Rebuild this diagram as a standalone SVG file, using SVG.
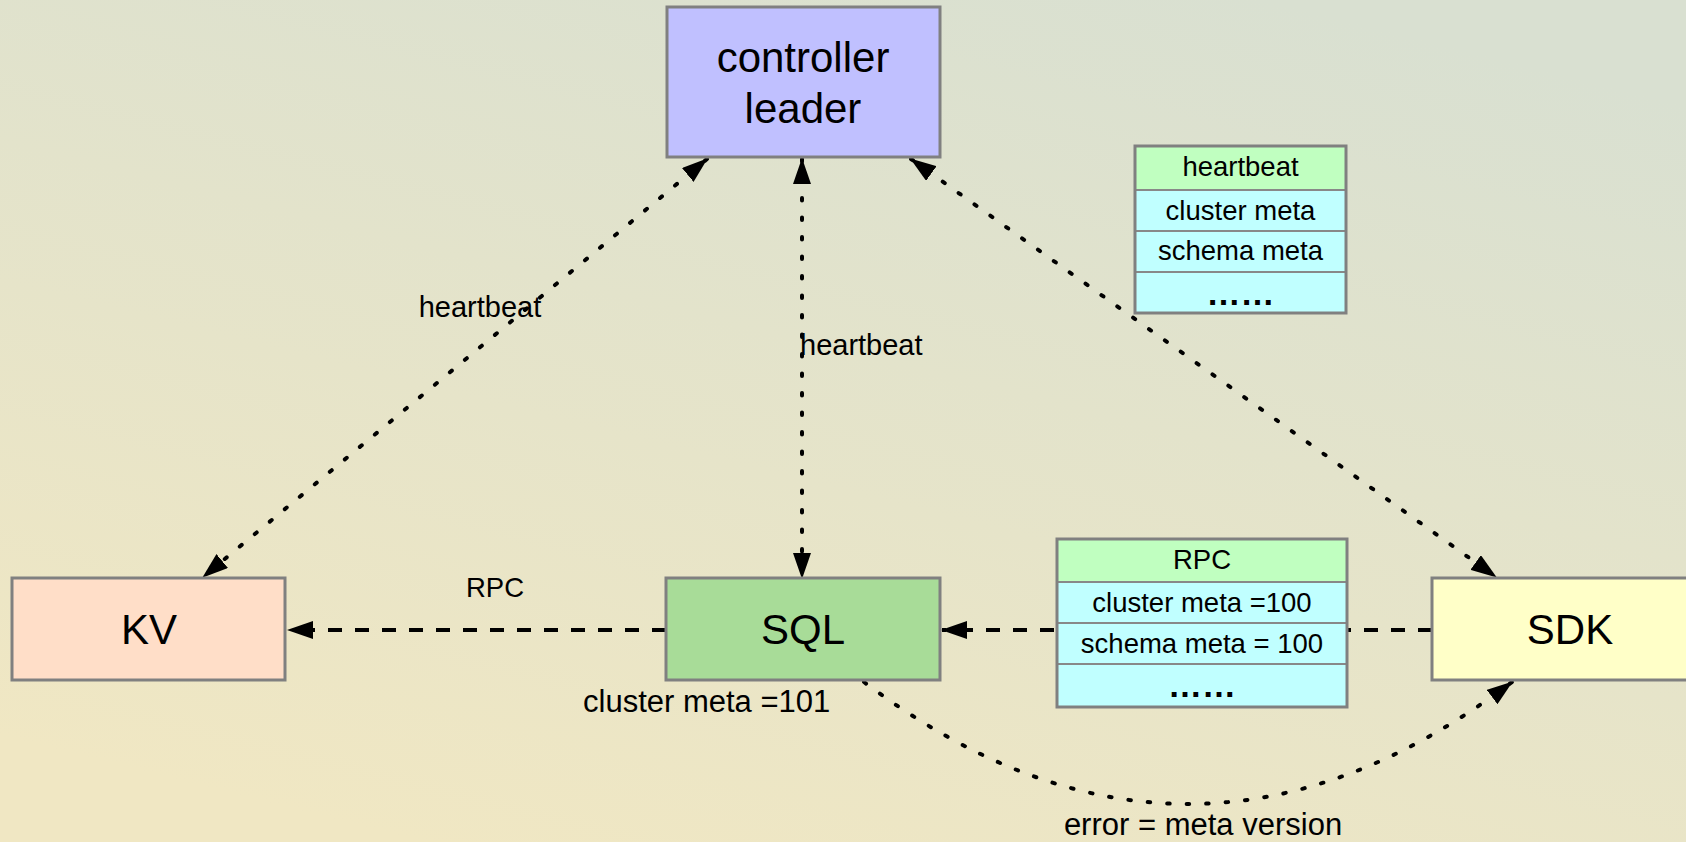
<svg xmlns="http://www.w3.org/2000/svg" width="1686" height="842" viewBox="0 0 1686 842">
  <defs>
    <linearGradient id="bg" x1="0.75" y1="0" x2="0.25" y2="1">
      <stop offset="0" stop-color="#D9E0D1"/>
      <stop offset="1" stop-color="#F0E7C3"/>
    </linearGradient>
    <marker id="arrow" viewBox="0 0 26 18" refX="25" refY="9" markerWidth="26" markerHeight="18" markerUnits="userSpaceOnUse" orient="auto-start-reverse">
      <path d="M0,0 L26,9 L0,18 Z" fill="#000"/>
    </marker>
    <style>
      .box { stroke: #808080; stroke-width: 3; }
      .cell { stroke: #888888; stroke-width: 2; }
      .frame { fill: none; stroke: #808080; stroke-width: 3; }
      .dotted { fill: none; stroke: #000; stroke-width: 4; stroke-linecap: round; stroke-dasharray: 2.5 17; }
      .dashed { fill: none; stroke: #000; stroke-width: 4; stroke-dasharray: 14 13; }
      text { font-family: "Liberation Sans", Arial, sans-serif; fill: #000; }
      .big { font-size: 42px; text-anchor: middle; }
      .cellText { font-size: 27.5px; text-anchor: middle; }
      .dots { font-size: 34px; font-weight: bold; text-anchor: middle; }
      .label { font-size: 29px; }
      .note { font-size: 31px; }
    </style>
  </defs>

  <rect x="0" y="0" width="1686" height="842" fill="url(#bg)"/>

  <!-- connectors -->
  <g id="connectors">
    <path id="edge-controller-kv" class="dotted" d="M707,159 L203,577" marker-start="url(#arrow)" marker-end="url(#arrow)"/>
    <path id="edge-controller-sql" class="dotted" d="M802,159 L802,578" marker-start="url(#arrow)" marker-end="url(#arrow)"/>
    <path id="edge-controller-sdk" class="dotted" d="M911,159 L1496,577" marker-start="url(#arrow)" marker-end="url(#arrow)"/>
    <path id="edge-sql-kv" class="dashed" d="M666,630 L288,630" marker-end="url(#arrow)"/>
    <path id="edge-sdk-sql" class="dashed" d="M1432,630 L942,630" marker-end="url(#arrow)"/>
    <path id="edge-sql-sdk" class="dotted" d="M864,682 Q1188,926 1512,682" marker-end="url(#arrow)"/>
  </g>

  <!-- connector labels -->
  <g id="edge-labels">
    <text class="label" x="480" y="317" text-anchor="middle">heartbeat</text>
    <text class="label" x="800" y="355">heartbeat</text>
    <text class="cellText" x="495" y="597">RPC</text>
    <text class="note" x="583" y="712">cluster meta =101</text>
    <text class="note" x="1203" y="835" text-anchor="middle">error = meta version</text>
  </g>

  <!-- nodes -->
  <g id="controller">
    <rect class="box" x="667" y="7" width="273" height="150" fill="#C0C0FF"/>
    <text class="big" x="803" y="72">controller</text>
    <text class="big" x="803" y="123">leader</text>
  </g>

  <g id="kv">
    <rect class="box" x="12" y="578" width="273" height="102" fill="#FFDEC8"/>
    <text class="big" x="149" y="644">KV</text>
  </g>

  <g id="sql">
    <rect class="box" x="666" y="578" width="274" height="102" fill="#A8DC98"/>
    <text class="big" x="803" y="644">SQL</text>
  </g>

  <g id="sdk">
    <rect class="box" x="1432" y="578" width="274" height="102" fill="#FFFFC8"/>
    <text class="big" x="1570" y="644">SDK</text>
  </g>

  <g id="heartbeat-message">
    <rect class="cell" x="1135" y="146" width="211" height="44" fill="#C0FFC0"/>
    <rect class="cell" x="1135" y="190" width="211" height="41" fill="#C0FFFF"/>
    <rect class="cell" x="1135" y="231" width="211" height="41" fill="#C0FFFF"/>
    <rect class="cell" x="1135" y="272" width="211" height="41" fill="#C0FFFF"/>
    <rect class="frame" x="1135" y="146" width="211" height="167"/>
    <text class="cellText" x="1240.5" y="176">heartbeat</text>
    <text class="cellText" x="1240.5" y="220">cluster meta</text>
    <text class="cellText" x="1240.5" y="260">schema meta</text>
    <text class="dots" x="1240.5" y="305">……</text>
  </g>

  <g id="rpc-message">
    <rect class="cell" x="1057" y="539" width="290" height="43" fill="#C0FFC0"/>
    <rect class="cell" x="1057" y="582" width="290" height="41" fill="#C0FFFF"/>
    <rect class="cell" x="1057" y="623" width="290" height="41" fill="#C0FFFF"/>
    <rect class="cell" x="1057" y="664" width="290" height="43" fill="#C0FFFF"/>
    <rect class="frame" x="1057" y="539" width="290" height="168"/>
    <text class="cellText" x="1202" y="569">RPC</text>
    <text class="cellText" x="1202" y="612">cluster meta =100</text>
    <text class="cellText" x="1202" y="653">schema meta = 100</text>
    <text class="dots" x="1202" y="697">……</text>
  </g>
</svg>
